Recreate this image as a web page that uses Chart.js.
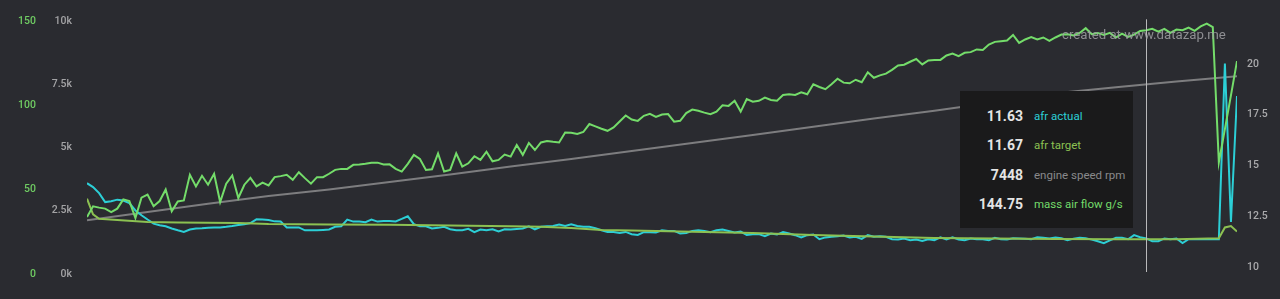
<!DOCTYPE html>
<html><head><meta charset="utf-8">
<script src="https://cdn.jsdelivr.net/npm/chart.js@4.4.1/dist/chart.umd.min.js"></script>
<style>
html,body{margin:0;padding:0;background:#2a2b30;width:1280px;height:299px;overflow:hidden;font-family:Roboto,'Liberation Sans',sans-serif;}
#wrap{position:relative;width:1280px;height:299px;}
canvas{position:absolute;left:0;top:0;}
#tip{position:absolute;left:960px;top:91px;width:173px;height:137px;background:#1a1a1b;}
.row{position:absolute;left:0;width:173px;height:20px;line-height:20px;}
.val{position:absolute;right:110px;top:0;font-weight:bold;font-size:14px;color:#e4e4e4;}
.lab{position:absolute;left:74px;top:0;font-size:11.5px;white-space:nowrap;}
#wm{position:absolute;left:1062px;top:26px;font-size:13.2px;color:rgba(160,160,163,0.85);line-height:18px;white-space:nowrap;}
</style></head>
<body>
<div id="wrap">
<canvas id="c" width="1280" height="299"></canvas>
<div id="wm">created at www.datazap.me</div>
<div id="tip"></div>
</div>
<script>
// mass air flow g/s, one value per sample
const mafFlow = [33.8,40.2,39.4,38.8,36.8,38.8,44.3,43.3,33.2,45.3,
47.1,40.2,43.3,50.2,37.2,43.1,43.7,58.9,52,58.3,
53,59.5,42.7,53.6,58.5,45.1,53,57.1,52,54.2,
52.6,57.5,58.1,58.9,55.9,60.4,56.9,53.6,57.5,57.5,
59.5,61.8,62.4,62.4,64.8,65,65.4,66.1,66.1,65,
65.1,62.4,60.8,65.4,70.7,68.3,61.8,62.2,71.6,60.8,
61.8,71.6,63.8,65.7,69.9,67.7,72.6,66.9,67.7,70.9,
69.7,76.6,70.7,77.8,73.6,78.1,79,78.5,78.1,84,
83.9,83.1,84.3,89,87.6,86.2,85,87,90.5,94.1,
91.7,90.9,93.9,95.1,93.3,94.7,94.9,90.4,90.9,95.5,
97.6,96.9,95.8,94.9,96.4,100.2,99.8,102.8,96.4,103.8,
102.3,102.8,104.7,103.3,102.8,106.3,106.7,106.3,107.9,106.7,
112.6,111,109.7,112.6,115.9,113.6,113.2,115.3,113.8,119.7,
116.5,117.9,118.9,121.2,123.8,124.2,126,127.6,124.4,126.8,
127.1,127.1,129.7,130.9,129.3,131.3,131.7,133.3,133,136.2,
137.8,138.2,138.6,141.9,137.2,139.2,140.7,139.2,140.4,138.4,
140.4,142.1,142.3,141.6,143.1,145.9,142.3,143.1,141.9,143.1,
140.4,142.7,140.7,142.1,144.3,144.75,145.5,143.9,145.5,143.1,
145.1,144.7,146.3,144.3,147,148.6,146.5,66.3,86,106,
126.4];

// afr actual, one value per sample
const afrActual = [14.13,13.94,13.64,13.2,13.24,13.32,13.28,13.15,12.79,12.55,
12.34,12.14,12.06,12.01,11.9,11.81,11.73,11.85,11.9,11.91,
11.93,11.95,11.95,11.98,12.02,12.07,12.11,12.17,12.35,12.34,
12.32,12.25,12.24,11.95,11.95,11.95,11.81,11.81,11.81,11.83,
11.85,11.98,12.01,12.34,12.24,12.24,12.21,12.34,12.24,12.27,
12.27,12.25,12.37,12.5,12.11,12.01,12.01,11.9,11.93,11.98,
11.86,11.81,11.81,11.88,11.72,11.85,11.81,11.86,11.75,11.86,
11.85,11.88,11.9,12.01,11.86,11.98,12.01,12.02,12.09,12.02,
12.11,12.02,11.98,11.98,11.91,11.81,11.73,11.73,11.68,11.73,
11.62,11.58,11.72,11.72,11.7,11.81,11.78,11.78,11.65,11.68,
11.78,11.81,11.78,11.72,11.81,11.85,11.78,11.7,11.75,11.58,
11.62,11.62,11.52,11.65,11.6,11.72,11.65,11.57,11.46,11.57,
11.6,11.37,11.46,11.49,11.52,11.55,11.46,11.49,11.39,11.57,
11.49,11.52,11.49,11.37,11.36,11.41,11.32,11.36,11.29,11.37,
11.32,11.46,11.36,11.46,11.36,11.32,11.41,11.37,11.37,11.32,
11.44,11.37,11.36,11.42,11.41,11.39,11.37,11.47,11.44,11.41,
11.46,11.42,11.32,11.4,11.44,11.42,11.35,11.27,11.18,11.31,
11.44,11.44,11.37,11.57,11.47,11.41,11.27,11.27,11.41,11.37,
11.41,11.18,11.37,11.37,11.37,11.37,11.37,11.37,20.03,12.22,
18.43];

// afr target, read at these sample numbers
const afrTargetAt = [0,1,2,5,10,15,25,30,40,50,60,70,75,80,85,90,100,110,115,120,130,140,150,160,170,180,187,188,189,190];
const afrTarget   = [13.37,12.6,12.38,12.32,12.22,12.19,12.17,12.12,12.09,12.08,12.05,12.01,11.98,11.92,11.83,11.8,11.74,11.68,11.63,11.58,11.5,11.43,11.4,11.38,11.37,11.37,11.42,11.95,12.02,11.75];

// engine speed rpm, read at these sample numbers
const rpmAt = [0,10,20,30,40,50,60,70,80,90,100,110,120,130,140,150,160,170,180,190];
const rpm   = [2130,2450,2780,3090,3340,3640,3940,4250,4550,4870,5180,5500,5830,6150,6460,6800,7150,7390,7620,7830];

// axis ticks
const mafTicks = [0,50,100,150];
const rpmTicks = [0,2500,5000,7500,10000];
const afrTicks = [10,12.5,15,17.5,20];

// hover readout
const cursorSample = 175;
const tipValues = ['11.63','11.67','7448','144.75'];
const tipLabels = ['afr actual','afr target','engine speed rpm','mass air flow g/s'];

const C = {maf:'#74dc6a', target:'#8cc152', actual:'#2ccfd6', rpm:'#7d7d7f'};
const tipColors = [C.actual, C.target, '#89898b', C.maf];

const tip = document.getElementById('tip');
tipValues.forEach((v,i)=>{
  const r = document.createElement('div');
  r.className='row'; r.style.top = (14.7 + i*29.5)+'px';
  r.innerHTML = '<span class="val"></span><span class="lab"></span>';
  r.children[0].textContent = v;
  r.children[1].textContent = tipLabels[i];
  r.children[1].style.color = tipColors[i];
  tip.appendChild(r);
});

const seq = vals => vals.map((v,i)=>({x:i,y:v}));
const at = (xs, vals) => xs.map((x,i)=>({x:x,y:vals[i]}));
const FONT = "Roboto,'Liberation Sans',sans-serif";

const cursorPlugin = {
  id:'cursor',
  afterDatasetsDraw(chart){
    const x = Math.round(chart.scales.x.getPixelForValue(cursorSample)) + 0.5;
    const ctx = chart.ctx;
    ctx.save();
    ctx.strokeStyle = '#b9b9bb';
    ctx.lineWidth = 1;
    ctx.beginPath();
    ctx.moveTo(x, chart.chartArea.top - 2);
    ctx.lineTo(x, chart.chartArea.bottom - 2);
    ctx.stroke();
    ctx.restore();
  }
};

const lineDs = (label, data, axis, color, order) => ({
  label, data, yAxisID:axis, borderColor:color, backgroundColor:color,
  borderWidth:2, pointRadius:0, tension:0, fill:false, order
});

const N = mafFlow.length;
new Chart(document.getElementById('c'), {
  type:'line',
  data:{datasets:[
    lineDs('mass air flow g/s', seq(mafFlow), 'yMaf', C.maf, 0),
    lineDs('afr target', at(afrTargetAt, afrTarget), 'yAfr', C.target, 1),
    lineDs('afr actual', seq(afrActual), 'yAfr', C.actual, 2),
    lineDs('engine speed rpm', at(rpmAt, rpm), 'yRpm', C.rpm, 3)
  ]},
  options:{
    responsive:false, animation:false, devicePixelRatio:1,
    layout:{padding:{top:20,bottom:25,left:0,right:0}},
    plugins:{legend:{display:false}, tooltip:{enabled:false}},
    scales:{
      x:{type:'linear', min:0, max:N-1, display:false},
      yRpm:{position:'left', min:0, max:10000,
        afterBuildTicks(s){ s.ticks = rpmTicks.map(v=>({value:v})); },
        ticks:{color:'#a3a3a5', padding:15, font:{family:FONT,size:10.5,weight:'500'}, callback:v=>(v/1000)+'k'},
        grid:{display:false, drawTicks:false}, border:{display:false},
        afterFit(s){ s.width = 47; }},
      yMaf:{position:'left', min:0, max:150,
        afterBuildTicks(s){ s.ticks = mafTicks.map(v=>({value:v})); },
        ticks:{color:'#6fcb62', padding:4, font:{family:FONT,size:10.5,weight:'500'}},
        grid:{display:false, drawTicks:false}, border:{display:false},
        afterFit(s){ s.width = 40; }},
      yAfr:{position:'right', min:9.657, max:22.108,
        afterBuildTicks(s){ s.ticks = afrTicks.map(v=>({value:v})); },
        ticks:{color:'#a9a9ab', padding:10, font:{family:FONT,size:10.5,weight:'500'}, callback:v=>String(v)},
        grid:{display:false, drawTicks:false}, border:{display:false},
        afterFit(s){ s.width = 43; }}
    }
  },
  plugins:[cursorPlugin]
});
</script>
</body></html>
